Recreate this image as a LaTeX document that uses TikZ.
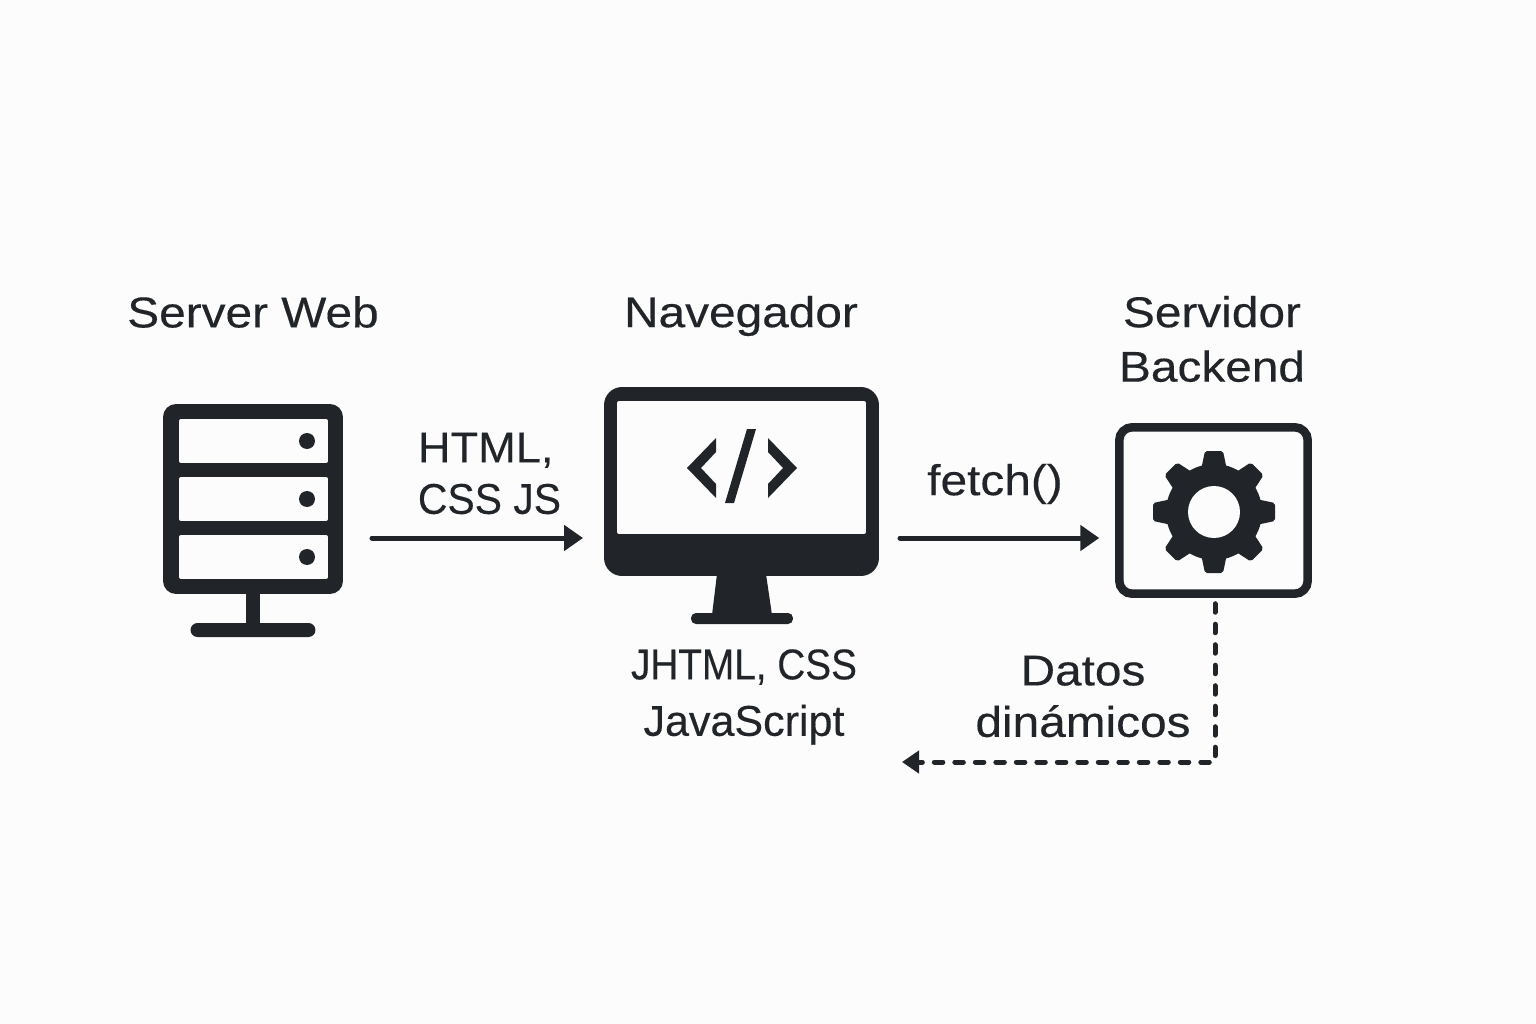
\documentclass[tikz,border=0pt]{standalone}
\usepackage{fontspec}
\setmainfont{Liberation Sans}[FakeStretch=1.11,FakeBold=0.3]
\newfontfamily\widefont{Liberation Sans}[FakeStretch=1.05,FakeBold=0.3]
\newfontfamily\plainfont{Liberation Sans}[FakeStretch=1.0,FakeBold=0.3]
\newfontfamily\tightfont{Liberation Sans}[FakeStretch=0.95,FakeBold=0.3]
\newfontfamily\narrowfont{Liberation Sans}[FakeStretch=0.9,FakeBold=0.3]
\usepackage{tikz}
\usetikzlibrary{arrows.meta,positioning}
\definecolor{dfink}{RGB}{33,37,41}
\definecolor{dfpaper}{RGB}{252,252,252}
\tikzstyle{arrow} = [line width=0.1cm,line cap=round,-{Triangle[length=0.38cm,width=0.5cm]},color=dfink]
\tikzstyle{dasharrow} = [line width=0.1cm,line cap=round,dash pattern=on 0.17cm off 0.24cm,-{Triangle[length=0.34cm,width=0.44cm]},color=dfink]
\tikzstyle{body} = [rectangle, fill=dfink, inner sep=0pt, outer sep=0pt]
\tikzstyle{screen} = [rectangle, fill=dfpaper, inner sep=0pt, outer sep=0pt, rounded corners=0.04cm]
\tikzstyle{label} = [text=dfink, align=center, inner sep=0pt, font=\fontsize{24.5}{31}\selectfont]

\begin{document}
\begin{tikzpicture}[x=0.02cm, y=-0.02cm]
\useasboundingbox (0,0) rectangle (1536,1024);
\fill[dfpaper] (0,0) rectangle (1536,1024);

% Server
\node[body, rounded corners=0.26cm, minimum width=3.6cm, minimum height=3.8cm] (server) at (253,499) {};
\foreach \row in {441,499,557}{
  \node[screen, minimum width=2.98cm, minimum height=0.88cm] (slot\row) at (253.5,\row) {};
  \node[circle, fill=dfink, inner sep=0pt, minimum size=0.32cm] (led\row) at (307,\row) {};
}
\node[body, minimum width=0.28cm, minimum height=0.62cm] (serverstem) at (253,608) {};
\node[body, rounded corners=0.14cm, minimum width=2.5cm, minimum height=0.28cm] (serverbase) at (253,630) {};

% Browser
\node[body, rounded corners=0.36cm, minimum width=5.5cm, minimum height=3.78cm] (monitor) at (741.5,481.5) {};
\node[screen, minimum width=4.98cm, minimum height=2.66cm] (display) at (741.5,467.5) {};
\fill[dfink] (717,574) -- (766,574) -- (772,615) -- (712,615) -- cycle;
\node[body, rounded corners=0.1cm, minimum width=2.04cm, minimum height=0.22cm] (monitorbase) at (742,618.5) {};
\fill[dfink] (687,468) -- (716,438) -- (716,452) -- (701,468) -- (716,484) -- (716,498) -- cycle;
\fill[dfink] (747,429) -- (756,429) -- (734,503) -- (725,503) -- cycle;
\fill[dfink] (797,468) -- (768,438) -- (768,452) -- (783,468) -- (768,484) -- (768,498) -- cycle;

% Backend
\node[rectangle, draw=dfink, line width=0.17cm, rounded corners=0.26cm, inner sep=0pt, outer sep=0pt, minimum width=3.77cm, minimum height=3.33cm] (backend) at (1213.5,510.5) {};
\node[circle, fill=dfink, inner sep=0pt, minimum size=1.92cm] (gear) at (1214,512) {};
\foreach \angle in {0,45,...,315}
  \fill[dfink, rounded corners=0.04cm, shift={(gear.center)}, rotate=\angle] (-13,-42) -- (-9,-61) -- (9,-61) -- (13,-42) -- cycle;
\node[circle, fill=dfpaper, inner sep=0pt, minimum size=1.04cm] (hub) at (1214,512) {};

% Labels
\node[label] (serverlabel) at (253,312) {Server Web};
\node[label] (browserlabel) at (741,316) {Navegador};
\node[label] (backendlabel) at (1212,339) {Servidor\\Backend};
\node[label, align=left] (pagelabel) at (489.5,473.5) {{\widefont HTML,}\\[-0.06cm]{\tightfont CSS JS}};
\node[label] (fetchlabel) at (995,484) {fetch()};
\node[label] (assetlabel) at (744,697) {{\narrowfont JHTML, CSS}\\[0.04cm]{\plainfont JavaScript}};
\node[label] (datalabel) at (1083,696.5) {Datos\\[-0.06cm]dinámicos};

% Connections
\coordinate (flow) at (0,538);
\coordinate (corner) at (1215,762);
\coordinate (dataend) at (902,762);
\draw[arrow, shorten <=0.58cm, shorten >=0.42cm] (server.east |- flow) -- (monitor.west |- flow);
\draw[arrow, shorten <=0.42cm, shorten >=0.4cm] (monitor.east |- flow) -- (backend.west |- flow);
\draw[dasharrow, shorten <=0.2cm] (backend.south -| corner) -- (corner) -- (dataend);
\end{tikzpicture}
\end{document}
